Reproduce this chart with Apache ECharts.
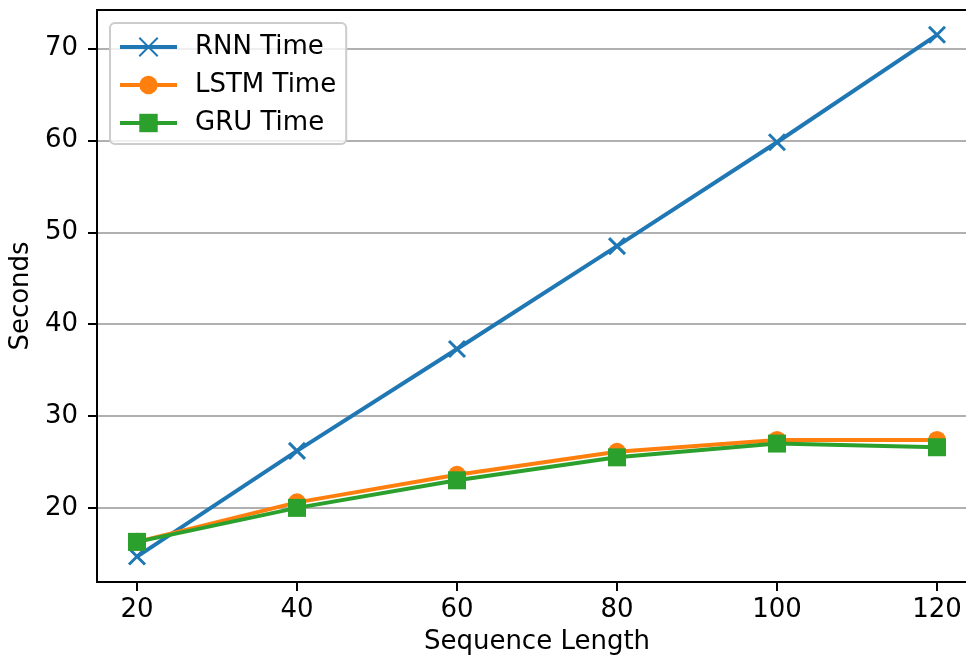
<!DOCTYPE html>
<html>
<head>
<meta charset="utf-8">
<script src="https://cdn.jsdelivr.net/npm/echarts@6/dist/echarts.min.js"></script>
<style>
html,body{margin:0;padding:0;background:#fff;}
#chart{width:966px;height:660px;}
</style>
</head>
<body>
<div id="chart"></div>
<script>
const seqLengths = [20, 40, 60, 80, 100, 120];
const rnnTime = [14.7, 26.2, 37.3, 48.5, 59.8, 71.5];
const lstmTime = [16.3, 20.6, 23.6, 26.1, 27.4, 27.4];
const gruTime = [16.3, 20.0, 23.0, 25.5, 27.0, 26.6];
const xTicks = [20, 40, 60, 80, 100, 120];
const yTicks = [20, 30, 40, 50, 60, 70];

const font = 'DejaVu Sans';
const pairs = arr => seqLengths.map((x, i) => [x, arr[i]]);
const xPath = 'path://M0,0L10,10M10,0L0,10';

const chart = echarts.init(document.getElementById('chart'), null, {renderer: 'canvas'});
chart.setOption({
  animation: false,
  backgroundColor: '#ffffff',
  textStyle: {fontFamily: font},
  grid: {left: 97, top: 10, height: 572, width: 880, outerBoundsMode: 'none', show: true, borderColor: '#000', borderWidth: 2, backgroundColor: 'transparent', containLabel: false},
  legend: {
    orient: 'vertical', left: 110, top: 23,
    padding: [11, 10, 8, 8],
    itemGap: 12, itemWidth: 57, itemHeight: 23,
    borderColor: '#cccccc', borderWidth: 2, borderRadius: 5,
    backgroundColor: 'rgba(255,255,255,0.8)',
    lineStyle: {width: 4},
    textStyle: {fontFamily: font, fontSize: 26, color: '#000', padding: [0, 0, 0, 13]},
    data: ['RNN Time', 'LSTM Time', 'GRU Time']
  },
  xAxis: {
    type: 'value', min: 15, max: 125,
    name: 'Sequence Length', nameLocation: 'middle', nameGap: 47,
    nameTextStyle: {fontFamily: font, fontSize: 26, color: '#000'},
    axisLine: {show: true, lineStyle: {color: '#000', width: 2}},
    axisTick: {show: true, length: 9, lineStyle: {color: '#000', width: 2}, customValues: xTicks},
    axisLabel: {fontFamily: font, fontSize: 26, color: '#000', margin: 15, customValues: xTicks},
    splitLine: {show: false}
  },
  yAxis: {
    type: 'value', min: 11.93, max: 74.2,
    name: 'Seconds', nameLocation: 'middle', nameGap: 56,
    nameTextStyle: {fontFamily: font, fontSize: 26, color: '#000'},
    axisLine: {show: true, lineStyle: {color: '#000', width: 2}},
    axisTick: {show: true, length: 9, lineStyle: {color: '#000', width: 2}, customValues: yTicks},
    axisLabel: {fontFamily: font, fontSize: 26, color: '#000', margin: 19, customValues: yTicks},
    splitLine: {show: true, lineStyle: {color: '#b0b0b0', width: 2}}
  },
  series: [
    {
      name: 'RNN Time', type: 'line', data: pairs(rnnTime),
      symbol: xPath, symbolSize: 16,
      lineStyle: {color: '#1f77b4', width: 4},
      itemStyle: {color: '#1f77b4', borderColor: '#1f77b4', borderWidth: 3}
    },
    {
      name: 'LSTM Time', type: 'line', data: pairs(lstmTime),
      symbol: 'circle', symbolSize: 18,
      lineStyle: {color: '#ff7f0e', width: 4},
      itemStyle: {color: '#ff7f0e', borderWidth: 0}
    },
    {
      name: 'GRU Time', type: 'line', data: pairs(gruTime),
      symbol: 'rect', symbolSize: 18,
      lineStyle: {color: '#2ca02c', width: 4},
      itemStyle: {color: '#2ca02c', borderWidth: 0}
    }
  ]
});
</script>
</body>
</html>
